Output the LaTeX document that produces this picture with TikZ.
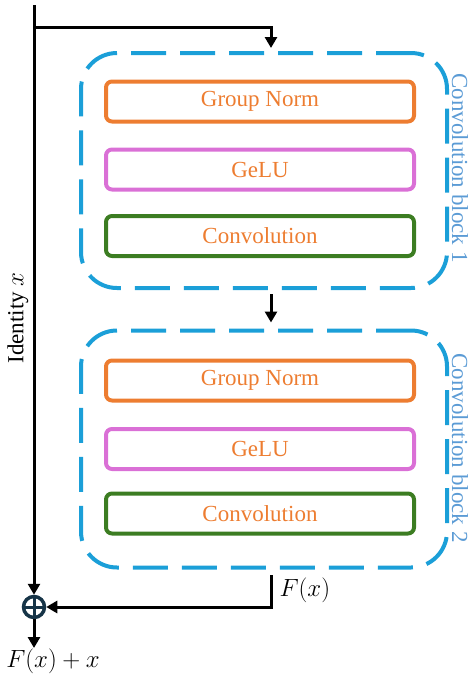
\documentclass[tikz,border=0pt]{standalone}
\usepackage{fontspec}
\setmainfont{Liberation Serif}
\usepackage{xcolor}
\usepackage{tikz}
\usepackage{amsmath}
\usetikzlibrary{arrows.meta}
\definecolor{BlockBlue}{HTML}{1B9FD8}
\definecolor{LabelBlue}{HTML}{5B9BD5}
\definecolor{NormOrange}{HTML}{ED7D31}
\definecolor{ActPink}{HTML}{DA70D6}
\definecolor{ConvGreen}{HTML}{3C7D22}
\definecolor{SumNavy}{HTML}{163447}

\begin{document}
\begin{tikzpicture}[x=1pt, y=-1pt,
    font=\fontsize{23}{27}\selectfont,
    tip/.style={-{Triangle[width=12pt,length=11pt]}},
    flow/.style={draw=black, line width=3pt},
    convblock/.style={draw=BlockBlue, line width=4pt, rounded corners=36pt,
      dash pattern=on 35pt off 14pt, minimum width=366pt},
    layer/.style={draw=#1, line width=4pt, rounded corners=6pt,
      minimum width=308pt, minimum height=40pt, inner sep=0pt,
      text=NormOrange},
    blocklabel/.style={text=LabelBlue, rotate=-90}]
  \useasboundingbox (0,0) rectangle (470,675);

  \node[convblock, minimum height=235pt] (blk1) at (264,170.5) {};
  \node[convblock, minimum height=237pt] (blk2) at (264,449) {};

  \node[layer=NormOrange] (norm1) at (260,101.5) {Group Norm};
  \node[layer=ActPink] (gelu1) at (260,169.5) {GeLU};
  \node[layer=ConvGreen] (conv1) at (260,236) {Convolution};
  \node[layer=NormOrange] (norm2) at (260,380.5) {Group Norm};
  \node[layer=ActPink] (gelu2) at (260,449) {GeLU};
  \node[layer=ConvGreen] (conv2) at (260,513.5) {Convolution};

  \node[blocklabel] (lab1) at (460,168) {Convolution block 1};
  \node[blocklabel] (lab2) at (460,448) {Convolution block 2};

  \coordinate (in) at (34,5);
  \coordinate (split) at (34,27);
  \coordinate (tap) at (271,0);
  \coordinate (out) at (271,575);
  \coordinate (res) at (34,648);

  \node[circle, draw=SumNavy, line width=3.5pt, minimum size=21pt,
        inner sep=0pt] (sum) at (34,607) {};
  \draw[SumNavy, line width=3pt] (sum.north) -- (sum.south)
    (sum.west) -- (sum.east);

  \draw[flow, tip] (in) -- (sum.north);
  \draw[flow, tip, shorten >=3pt] (split) -| (blk1.north -| tap);
  \draw[flow, tip, shorten <=4pt, shorten >=6pt]
    (blk1.south -| tap) -- (blk2.north -| tap);
  \draw[flow, tip] (out) |- (sum.east);
  \draw[flow, tip] (sum.south) -- (res);

  \node[rotate=90] (ident) at (18,318) {Identity $x$};
  \node[anchor=west] (fx) at (276,590) {$F(x)$};
  \node (fxx) at (53,661) {$F(x)+x$};
\end{tikzpicture}
\end{document}
